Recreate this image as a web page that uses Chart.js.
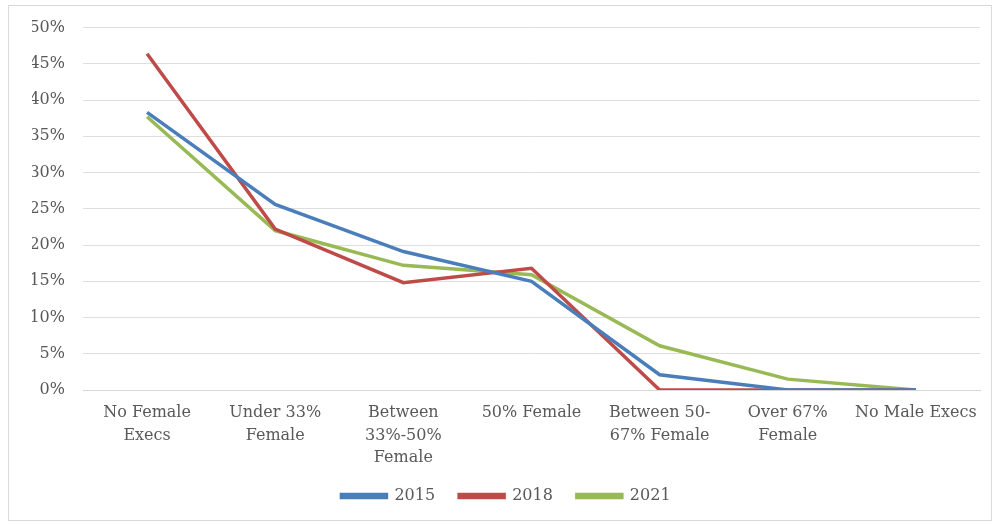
<!DOCTYPE html>
<html>
<head>
<meta charset="utf-8">
<script src="https://cdn.jsdelivr.net/npm/chart.js@4"></script>
<style>
  html, body { margin: 0; padding: 0; background: #ffffff; }
  #wrap { position: relative; width: 995px; height: 525px; }
  #frame { position: absolute; left: 8px; top: 5px; width: 984px; height: 516px; border: 1px solid #d9d9d9; box-sizing: border-box; pointer-events: none; }
  canvas { position: absolute; left: 0; top: 0; }
</style>
</head>
<body>
<div id="wrap">
  <canvas id="chart" width="995" height="525"></canvas>
  <div id="frame"></div>
</div>
<script>
// Share of companies by proportion of female executives
const categories = [
  ["No Female", "Execs"],
  ["Under 33%", "Female"],
  ["Between", "33%-50%", "Female"],
  "50% Female",
  ["Between 50-", "67% Female"],
  ["Over 67%", "Female"],
  "No Male Execs"
];
const years = ["2015", "2018", "2021"];
const values2015 = [38.3, 25.6, 19.1, 15.0, 2.1, 0, 0];
const values2018 = [46.4, 22.2, 14.8, 16.8, 0, 0, 0];
const values2021 = [37.7, 22.0, 17.2, 15.9, 6.1, 1.5, 0];
const yTicks = [0, 5, 10, 15, 20, 25, 30, 35, 40, 45, 50];

const colors = ["#4a7ebb", "#be4b48", "#98b954"];
const seriesValues = [values2015, values2018, values2021];

const fontFamily = "'DejaVu Serif', 'Liberation Serif', serif";
const textColor = "#595959";

new Chart(document.getElementById("chart"), {
  type: "line",
  data: {
    labels: categories,
    datasets: years.map((y, i) => ({
      label: y,
      data: seriesValues[i],
      borderColor: colors[i],
      backgroundColor: colors[i],
      borderWidth: 3.5,
      pointRadius: 0,
      tension: 0,
      fill: false
    }))
  },
  options: {
    responsive: false,
    animation: false,
    layout: { padding: { left: 32, right: 15, top: 25, bottom: 11 } },
    plugins: {
      legend: {
        position: "bottom",
        labels: {
          boxWidth: 45,
          boxHeight: 3,
          padding: 24,
          color: textColor,
          font: { family: fontFamily, size: 16 }
        }
      },
      tooltip: { enabled: false }
    },
    scales: {
      x: {
        offset: true,
        grid: { display: false, drawTicks: false },
        border: { display: true, color: "#d9d9d9" },
        ticks: {
          color: textColor,
          padding: 12,
          maxRotation: 0,
          autoSkip: false,
          font: { family: fontFamily, size: 16, lineHeight: 1.4 }
        },
        afterFit: s => { s.height = 74; }
      },
      y: {
        min: 0,
        max: 50,
        afterBuildTicks: s => { s.ticks = yTicks.map(v => ({ value: v })); },
        grid: { color: "#dedede", drawTicks: false },
        border: { display: false },
        ticks: {
          color: textColor,
          padding: 18,
          font: { family: fontFamily, size: 16 },
          callback: v => v + "%"
        },
        afterFit: s => { s.width = 51; }
      }
    }
  }
});
</script>
</body>
</html>
